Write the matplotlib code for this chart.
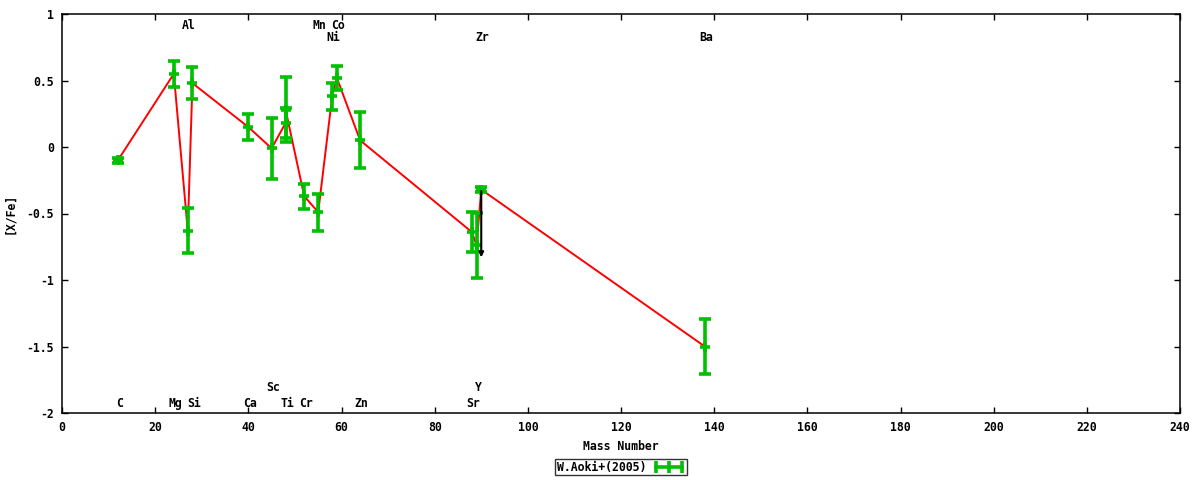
import matplotlib
matplotlib.use("Agg")
import matplotlib.pyplot as plt
from matplotlib.lines import Line2D
import numpy as np

plt.rcParams["font.family"] = "DejaVu Sans Mono"
plt.rcParams["font.size"] = 8.3
plt.rcParams["font.weight"] = "bold"
plt.rcParams["axes.unicode_minus"] = False

# W.Aoki+(2005): [X/Fe] vs mass number
mass = [12, 24, 27, 28, 40, 45, 48, 48, 52, 55, 58, 59, 64, 88, 89, 90, 138]
xfe = [-0.10, 0.55, -0.63, 0.48, 0.15, -0.01, 0.18, 0.28, -0.37, -0.49,
       0.38, 0.52, 0.05, -0.64, -0.74, -0.32, -1.50]
err = [0.02, 0.10, 0.17, 0.12, 0.10, 0.23, 0.11, 0.245, 0.095, 0.14,
       0.10, 0.09, 0.21, 0.15, 0.245, 0.02, 0.21]

# upper limit (arrow)
lim_mass = [90]
lim_top = [-0.33]
lim_bottom = [-0.83]

# element labels
lab_names = ["Al", "Mn", "Co", "Ni", "Zr", "Ba",
             "C", "Mg", "Si", "Ca", "Ti", "Cr", "Zn", "Sr", "Sc", "Y"]
lab_mass = [27, 55, 59, 58, 90, 138,
            12, 24, 28, 40, 48, 52, 64, 88, 45, 89]
lab_y = [0.91, 0.91, 0.91, 0.82, 0.82, 0.82,
         -1.925, -1.925, -1.925, -1.925, -1.925, -1.925, -1.925, -1.925, -1.805, -1.805]

GREEN = "#00c000"
RED = "#ff0000"

fig = plt.figure(figsize=(12, 4.8), dpi=100)
ax = fig.add_axes([62 / 1200, 67 / 480, 1118 / 1200, 399 / 480])

ax.plot(mass, xfe, color=RED, linewidth=1.4, zorder=2)
ax.errorbar(mass, xfe, yerr=err, fmt="+", color=GREEN, ecolor=GREEN,
            elinewidth=2.6, capsize=4, capthick=2.6, markersize=7,
            markeredgewidth=2.6, zorder=3)

for m, t, b in zip(lim_mass, lim_top, lim_bottom):
    ax.annotate("", xy=(m, b), xytext=(m, t),
                arrowprops=dict(arrowstyle="-|>", color="black", lw=1.5,
                                mutation_scale=7, shrinkA=0, shrinkB=0),
                zorder=4)

for name, m, y in zip(lab_names, lab_mass, lab_y):
    ax.text(m + 0.3, y, name, ha="center", va="center", fontsize=8.3, fontweight="bold")

ax.set_xlim(0, 240)
ax.set_ylim(-2, 1)
ax.set_xticks(np.arange(0, 241, 20))
ax.set_yticks([-2, -1.5, -1, -0.5, 0, 0.5, 1])
ax.set_yticklabels(["-2", "-1.5", "-1", "-0.5", "0", "0.5", "1"])
ax.tick_params(direction="in", length=4, width=1, top=True, right=True, pad=6)
for s in ax.spines.values():
    s.set_linewidth(1.1)

ax.set_xlabel("Mass Number", fontweight="bold", labelpad=4)
ax.set_ylabel("[X/Fe]", fontweight="bold")
ax.yaxis.set_label_coords(-0.041, 0.5)

handle = Line2D([], [], color=GREEN, linewidth=2.6, marker="|", markersize=8,
                markeredgewidth=2.6)
leg = ax.legend([handle], ["W.Aoki+(2005)"], loc="upper center",
                bbox_to_anchor=(0.5, -0.115), markerfirst=False, numpoints=3,
                frameon=True, fancybox=False, edgecolor="black", borderpad=0.15,
                handlelength=2.8, handletextpad=0.6, borderaxespad=0)
leg.get_frame().set_linewidth(1.0)

fig.savefig("out.png", dpi=100)
